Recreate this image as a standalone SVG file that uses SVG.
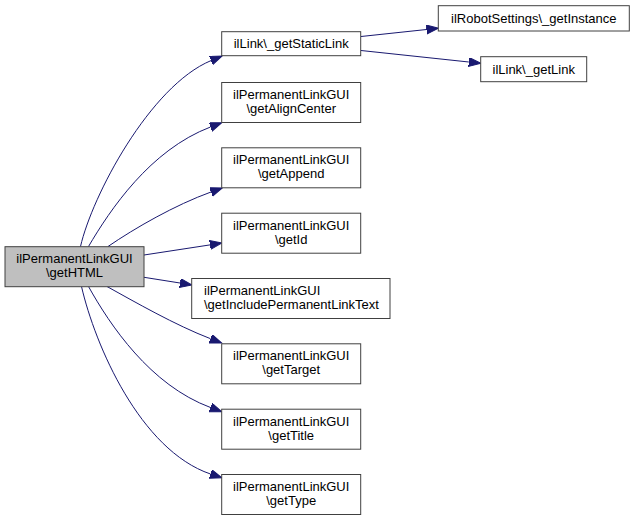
<svg xmlns="http://www.w3.org/2000/svg" width="635" height="521" viewBox="0 0 635 521">
<style>
.n rect{fill:#ffffff;stroke:#404040;stroke-width:1}
.n.main rect{fill:#bfbfbf}
.n text{font-family:"Liberation Sans",Arial,sans-serif;font-size:13px;fill:#000000}
.c{text-anchor:middle}
.e path{fill:none;stroke:#191970;stroke-width:1}
</style>
<defs>
<marker id="arr" markerUnits="userSpaceOnUse" markerWidth="13" markerHeight="10" refX="0" refY="4.5" orient="auto" viewBox="0 0 13 10">
<path d="M0,0 L12,4.5 L0,9 Z" fill="#191970" stroke="#191970" stroke-width="1"/>
</marker>
</defs>
<rect width="635" height="521" fill="#ffffff"/>
<g id="edges" class="e">
<path marker-end="url(#arr)" d="M80.5,246.5 C92,196 150,86 211,60.6"/>
<path marker-end="url(#arr)" d="M88.5,246.5 C110,210 150,150 210.5,127"/>
<path marker-end="url(#arr)" d="M108,246.5 C135,228 175,205 211,192"/>
<path marker-end="url(#arr)" d="M144,255 L210,244.9"/>
<path marker-end="url(#arr)" d="M144,277.3 L180,283"/>
<path marker-end="url(#arr)" d="M107,286.5 C135,302 175,325 210.5,338.7"/>
<path marker-end="url(#arr)" d="M88.5,286.5 C110,325 150,385 210.5,407.5"/>
<path marker-end="url(#arr)" d="M81.5,286.5 C95,345 140,450 210.5,474"/>
<path marker-end="url(#arr)" d="M361,36.5 L426.5,29.5"/>
<path marker-end="url(#arr)" d="M361,50.5 L468.8,62"/>
</g>
<g id="getHTML" class="n main">
<rect x="5" y="246.7" width="139" height="40"/>
<text class="c" x="74.5" y="263.3">ilPermanentLinkGUI</text>
<text class="c" x="74.5" y="277.3">\getHTML</text>
</g>
<g id="getStaticLink" class="n">
<rect x="221.7" y="31.7" width="139" height="24"/>
<text class="c" x="291.2" y="48.3">ilLink\_getStaticLink</text>
</g>
<g id="getInstance" class="n">
<rect x="438.3" y="5.7" width="191" height="25.3"/>
<text class="c" x="533.8" y="22.8">ilRobotSettings\_getInstance</text>
</g>
<g id="getLink" class="n">
<rect x="480.7" y="56.7" width="106" height="25"/>
<text class="c" x="533.7" y="73.7">ilLink\_getLink</text>
</g>
<g id="getAlignCenter" class="n">
<rect x="221.7" y="82.5" width="139" height="40"/>
<text class="c" x="291.2" y="99.1">ilPermanentLinkGUI</text>
<text class="c" x="291.2" y="113.1">\getAlignCenter</text>
</g>
<g id="getAppend" class="n">
<rect x="221.7" y="147.8" width="139" height="40"/>
<text class="c" x="291.2" y="164.4">ilPermanentLinkGUI</text>
<text class="c" x="291.2" y="178.4">\getAppend</text>
</g>
<g id="getId" class="n">
<rect x="221.7" y="213.2" width="139" height="40"/>
<text class="c" x="291.2" y="229.8">ilPermanentLinkGUI</text>
<text class="c" x="291.2" y="243.8">\getId</text>
</g>
<g id="getIncludePermanentLinkText" class="n">
<rect x="191.7" y="278.5" width="198.3" height="40"/>
<text x="204" y="295.1">ilPermanentLinkGUI</text>
<text x="204" y="309.1">\getIncludePermanentLinkText</text>
</g>
<g id="getTarget" class="n">
<rect x="221.7" y="343.8" width="139" height="40"/>
<text class="c" x="291.2" y="360.4">ilPermanentLinkGUI</text>
<text class="c" x="291.2" y="374.4">\getTarget</text>
</g>
<g id="getTitle" class="n">
<rect x="221.7" y="409.2" width="139" height="40"/>
<text class="c" x="291.2" y="425.8">ilPermanentLinkGUI</text>
<text class="c" x="291.2" y="439.8">\getTitle</text>
</g>
<g id="getType" class="n">
<rect x="221.7" y="474.5" width="139" height="40"/>
<text class="c" x="291.2" y="491.1">ilPermanentLinkGUI</text>
<text class="c" x="291.2" y="505.1">\getType</text>
</g>
</svg>
